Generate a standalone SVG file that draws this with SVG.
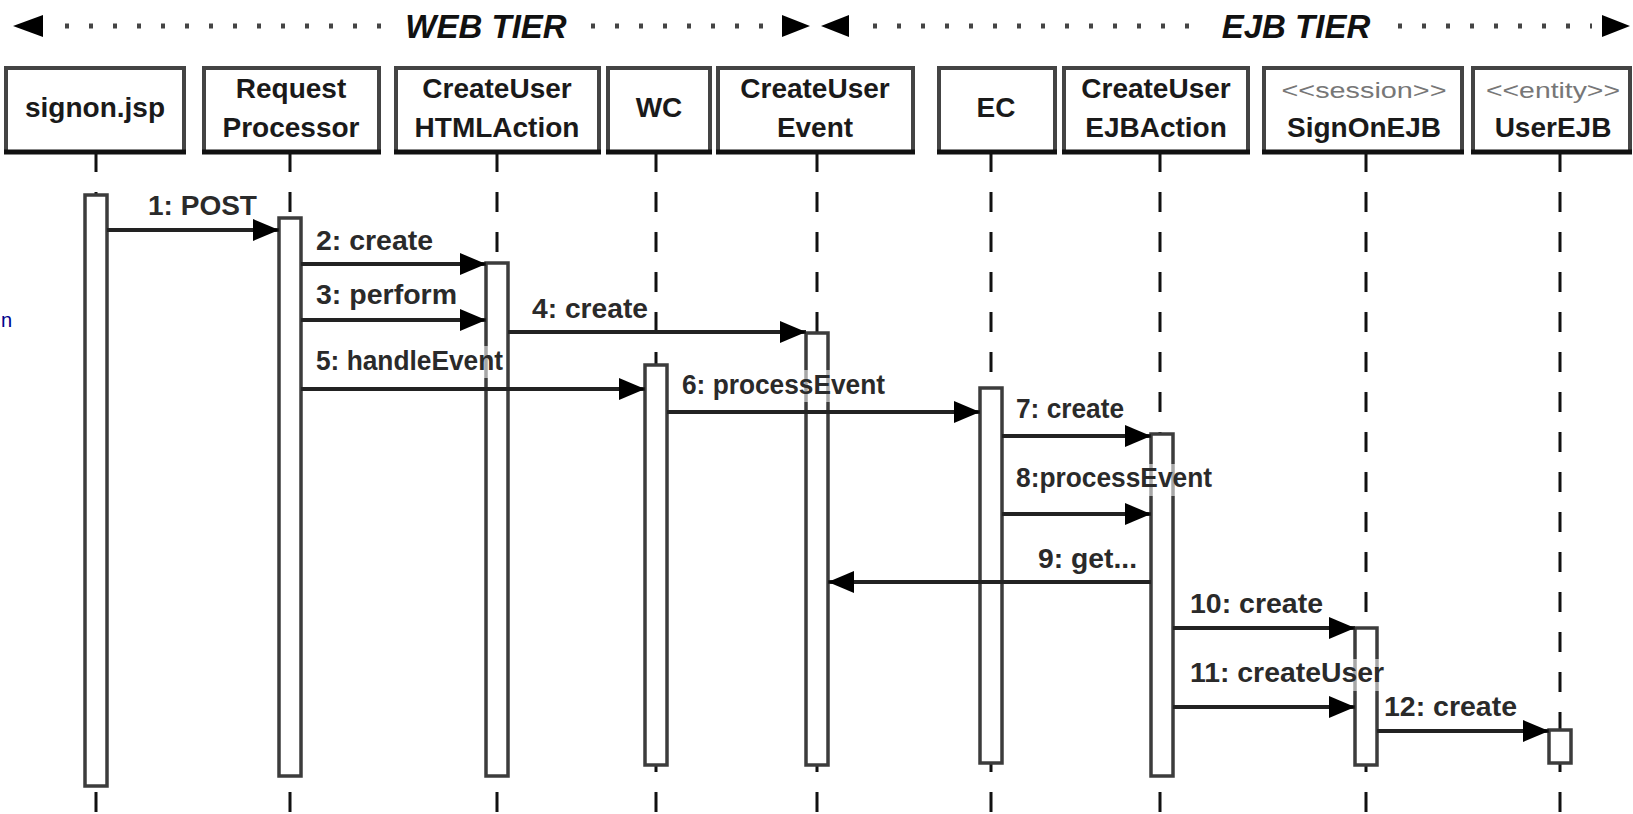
<svg xmlns="http://www.w3.org/2000/svg" width="1633" height="814" viewBox="0 0 1633 814">
<style>
.hdr{font-family:"Liberation Sans",Arial,sans-serif;font-weight:bold;font-style:italic;font-size:33px;fill:#111;text-anchor:middle}
.dots{stroke:#444;stroke-width:5;stroke-dasharray:4 20;fill:none}
.box{fill:#fff;stroke:#444;stroke-width:4}
.boxb{stroke:#111;stroke-width:5}
.bl{font-family:"Liberation Sans",Arial,sans-serif;font-weight:bold;font-size:28px;fill:#1a1a1a;text-anchor:middle}
.st{font-family:"Liberation Sans",Arial,sans-serif;font-size:22px;fill:#777;text-anchor:middle}
.life{stroke:#111;stroke-width:3;stroke-dasharray:20 20;fill:none}
.bar{fill:#fff;stroke:#3c3c3c;stroke-width:3.5}
.msg{stroke:#222;stroke-width:4;fill:none;marker-end:url(#ah)}
.ml{font-family:"Liberation Sans",Arial,sans-serif;font-weight:bold;font-size:27px;fill:#2a2a2a}
.lbg{fill:#fff;fill-opacity:0.55}
</style>
<defs>
<marker id="ah" markerUnits="userSpaceOnUse" markerWidth="28" markerHeight="22" refX="26" refY="11" orient="auto">
<path d="M0,0 L26,11 L0,22 Z" fill="#000"/>
</marker>
</defs>
<rect width="1633" height="814" fill="#fff"/>

<g id="tiers">
<path d="M13,26 L43,15 L43,37 Z" fill="#000"/>
<line class="dots" x1="65" y1="26" x2="385" y2="26"/>
<text class="hdr" x="486" y="38">WEB TIER</text>
<line class="dots" x1="591" y1="26" x2="772" y2="26"/>
<path d="M810,26 L782,15 L782,37 Z" fill="#000"/>
<path d="M821,26 L849,15 L849,37 Z" fill="#000"/>
<line class="dots" x1="873" y1="26" x2="1195" y2="26"/>
<text class="hdr" x="1296" y="38">EJB TIER</text>
<line class="dots" x1="1398" y1="26" x2="1592" y2="26"/>
<path d="M1630,26 L1602,15 L1602,37 Z" fill="#000"/>
</g>

<text x="1" y="327" font-family="Liberation Sans, Arial, sans-serif" font-size="20" fill="#00008b">n</text>

<g id="lifelines">
<line class="life" x1="96" y1="152" x2="96" y2="814"/>
<line class="life" x1="290" y1="152" x2="290" y2="814"/>
<line class="life" x1="497" y1="152" x2="497" y2="814"/>
<line class="life" x1="656" y1="152" x2="656" y2="814"/>
<line class="life" x1="817" y1="152" x2="817" y2="814"/>
<line class="life" x1="991" y1="152" x2="991" y2="814"/>
<line class="life" x1="1160" y1="152" x2="1160" y2="814"/>
<line class="life" x1="1366" y1="152" x2="1366" y2="814"/>
<line class="life" x1="1560" y1="152" x2="1560" y2="814"/>
</g>

<g id="signon_jsp">
<rect class="box" x="6" y="68" width="178" height="84"/><line class="boxb" x1="4" y1="152" x2="186" y2="152"/>
<text class="bl" x="95" y="117">signon.jsp</text>
<rect class="bar" x="85" y="195" width="22" height="591"/>
</g>
<g id="request_processor">
<rect class="box" x="204" y="68" width="175" height="84"/><line class="boxb" x1="202" y1="152" x2="381" y2="152"/>
<text class="bl" x="291" y="98">Request</text>
<text class="bl" x="291" y="137">Processor</text>
<rect class="bar" x="279" y="218" width="22" height="558"/>
</g>
<g id="createuser_htmlaction">
<rect class="box" x="396" y="68" width="203" height="84"/><line class="boxb" x1="394" y1="152" x2="601" y2="152"/>
<text class="bl" x="497" y="98">CreateUser</text>
<text class="bl" x="497" y="137">HTMLAction</text>
<rect class="bar" x="486" y="263" width="22" height="513"/>
</g>
<g id="wc">
<rect class="box" x="608" y="68" width="102" height="84"/><line class="boxb" x1="606" y1="152" x2="712" y2="152"/>
<text class="bl" x="659" y="117">WC</text>
<rect class="bar" x="645" y="365" width="22" height="400"/>
</g>
<g id="createuser_event">
<rect class="box" x="718" y="68" width="195" height="84"/><line class="boxb" x1="716" y1="152" x2="915" y2="152"/>
<text class="bl" x="815" y="98">CreateUser</text>
<text class="bl" x="815" y="137">Event</text>
<rect class="bar" x="806" y="333" width="22" height="432"/>
</g>
<g id="ec">
<rect class="box" x="939" y="68" width="116" height="84"/><line class="boxb" x1="937" y1="152" x2="1057" y2="152"/>
<text class="bl" x="996" y="117">EC</text>
<rect class="bar" x="980" y="388" width="22" height="375"/>
</g>
<g id="createuser_ejbaction">
<rect class="box" x="1064" y="68" width="184" height="84"/><line class="boxb" x1="1062" y1="152" x2="1250" y2="152"/>
<text class="bl" x="1156" y="98">CreateUser</text>
<text class="bl" x="1156" y="137">EJBAction</text>
<rect class="bar" x="1151" y="434" width="22" height="342"/>
</g>
<g id="signonejb">
<rect class="box" x="1264" y="68" width="198" height="84"/><line class="boxb" x1="1262" y1="152" x2="1464" y2="152"/>
<text class="st" x="1364" y="98" textLength="165" lengthAdjust="spacingAndGlyphs">&lt;&lt;session&gt;&gt;</text>
<text class="bl" x="1364" y="137">SignOnEJB</text>
<rect class="bar" x="1355" y="628" width="22" height="137"/>
</g>
<g id="userejb">
<rect class="box" x="1473" y="68" width="157" height="84"/><line class="boxb" x1="1471" y1="152" x2="1632" y2="152"/>
<text class="st" x="1553" y="98" textLength="134" lengthAdjust="spacingAndGlyphs">&lt;&lt;entity&gt;&gt;</text>
<text class="bl" x="1553" y="137">UserEJB</text>
<rect class="bar" x="1549" y="730" width="22" height="33"/>
</g>

<g id="connectors">
<line class="msg" x1="107" y1="230" x2="279" y2="230"/>
<line class="msg" x1="301" y1="264" x2="486" y2="264"/>
<line class="msg" x1="301" y1="320" x2="486" y2="320"/>
<line class="msg" x1="508" y1="332" x2="806" y2="332"/>
<line class="msg" x1="301" y1="389" x2="645" y2="389"/>
<line class="msg" x1="667" y1="412" x2="980" y2="412"/>
<line class="msg" x1="1002" y1="436" x2="1151" y2="436"/>
<line class="msg" x1="1002" y1="514" x2="1151" y2="514"/>
<line class="msg" x1="1151" y1="582" x2="828" y2="582"/>
<line class="msg" x1="1173" y1="628" x2="1355" y2="628"/>
<line class="msg" x1="1173" y1="707" x2="1355" y2="707"/>
<line class="msg" x1="1377" y1="731" x2="1549" y2="731"/>

<rect class="lbg" x="314" y="346" width="192" height="32"/>
<rect class="lbg" x="680" y="370" width="207" height="32"/>
<rect class="lbg" x="1014" y="464" width="200" height="32"/>
<rect class="lbg" x="1188" y="659" width="198" height="32"/>

<text class="ml" x="148" y="215" textLength="109" lengthAdjust="spacingAndGlyphs">1: POST</text>
<text class="ml" x="316" y="250" textLength="117" lengthAdjust="spacingAndGlyphs">2: create</text>
<text class="ml" x="316" y="304" textLength="141" lengthAdjust="spacingAndGlyphs">3: perform</text>
<text class="ml" x="532" y="318" textLength="116" lengthAdjust="spacingAndGlyphs">4: create</text>
<text class="ml" x="316" y="370" textLength="187" lengthAdjust="spacingAndGlyphs">5: handleEvent</text>
<text class="ml" x="682" y="394" textLength="203" lengthAdjust="spacingAndGlyphs">6: processEvent</text>
<text class="ml" x="1016" y="418" textLength="108" lengthAdjust="spacingAndGlyphs">7: create</text>
<text class="ml" x="1016" y="487" textLength="196" lengthAdjust="spacingAndGlyphs">8:processEvent</text>
<text class="ml" x="1038" y="568" textLength="99" lengthAdjust="spacingAndGlyphs">9: get...</text>
<text class="ml" x="1190" y="613" textLength="133" lengthAdjust="spacingAndGlyphs">10: create</text>
<text class="ml" x="1190" y="682" textLength="194" lengthAdjust="spacingAndGlyphs">11: createUser</text>
<text class="ml" x="1384" y="716" textLength="133" lengthAdjust="spacingAndGlyphs">12: create</text>
</g>
</svg>
